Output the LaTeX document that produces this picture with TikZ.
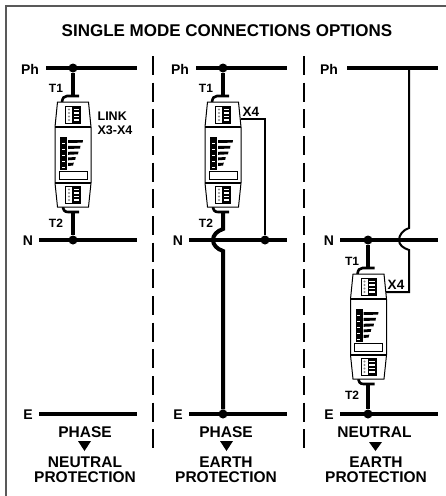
\documentclass[tikz,border=0pt]{standalone}
\usepackage{fontspec}
\setmainfont{Liberation Sans}
\tikzset{
  bus/.style={line width=4.2pt},
  wire/.style={line width=4pt},
  thin wire/.style={line width=2pt},
  junction/.style={circle,fill=black,inner sep=0pt,minimum size=9pt},
  lab/.style={font=\bfseries\fontsize{14}{15}\selectfont,inner sep=0pt},
  tlab/.style={font=\bfseries\fontsize{12}{12}\selectfont,inner sep=0pt},
  linklab/.style={font=\bfseries\fontsize{12.5}{13}\selectfont,inner sep=0pt},
  xlab/.style={font=\bfseries\fontsize{13.5}{14}\selectfont,inner sep=0pt},
  plab/.style={font=\bfseries\fontsize{15.5}{15}\selectfont,inner sep=0pt,align=center},
  tri/.style={fill=black,draw=none},
  sep/.style={line width=1.8pt,dash pattern=on 19pt off 7.67pt},
}
\newcommand{\termblock}[2]{%
  \begin{scope}[shift={(#1,#2)}]
    \fill[black] (-8,0) rectangle (8,18);
    \fill[white] (-7,1.2) rectangle (-1,16.8);
    \foreach \k in {3.5,7,10.5,14} {
      \fill[black!45] (-4,\k) circle (1.1pt);
      \fill[white] (0.8,\k-0.8) rectangle (6.2,\k+0.8);
    }
  \end{scope}}
\newcommand{\spd}[2]{%
  \begin{scope}[shift={(#1,#2)}]
    \draw[line width=2.6pt] (-11,6) .. controls (-10.5,2) and (-9,0) .. (-6,0) -- (6,0);
    \draw[line width=2.6pt] (-10,110) .. controls (-10,114) and (-8.5,116) .. (-5,116) -- (6,116);
    \draw[line width=1pt,fill=white] (-15.5,6) -- (15.5,6) -- (18,31) -- (18,87) -- (15.5,111) -- (-15.5,111) -- (-18,87) -- (-18,31) -- cycle;
    \draw[line width=1.8pt] (-18,31) -- (18,31);
    \draw[line width=1.8pt] (-18,87) -- (18,87);
    \termblock{0}{10}
    \termblock{0}{90}
    \fill (-13,41) rectangle (-6,74);
    \foreach \k in {47,53,59,65,71} \fill[white] (-11.5,\k-0.5) rectangle (-8.5,\k+0.5);
    \fill (-5,44) -- (10,44) -- (9.6,46.6) -- (-5,47) -- cycle;
    \fill (-5,50) -- (7.5,49.8) -- (7,52.5) -- (-5,53) -- cycle;
    \fill (-5,55.8) -- (5.5,55.5) -- (5,58.3) -- (-5,58.8) -- cycle;
    \fill (-5,61.5) -- (2.8,61) -- (2.2,63.8) -- (-5,64.3) -- cycle;
    \fill (-5,67) -- (0.8,66.7) -- (0,69.5) -- (-5,70) -- cycle;
    \draw[line width=0.9pt,fill=white] (-14,75) rectangle (14,83);
  \end{scope}}
\begin{document}
\begin{tikzpicture}[x=1pt,y=-1pt]
\useasboundingbox (0,0) rectangle (446,496);
\fill[white] (0,0) rectangle (446,496);
\draw[line width=1.2pt,black!65] (6,496) -- (6,6) -- (446,6);
\node[inner sep=0pt,font=\bfseries\fontsize{17}{18}\selectfont] (title) at (227,31) {SINGLE MODE CONNECTIONS OPTIONS};
\draw[sep] (152.7,56) -- (152.7,449);
\draw[sep] (304,56) -- (304,449);

\coordinate (ph1a) at (46,68); \coordinate (ph1b) at (137,68);
\coordinate (n1a) at (39,240); \coordinate (n1b) at (137,240);
\coordinate (e1a) at (39,414); \coordinate (e1b) at (137,414);
\coordinate (ph2a) at (196,68); \coordinate (ph2b) at (287,68);
\coordinate (n2a) at (189,240); \coordinate (n2b) at (287,240);
\coordinate (e2a) at (189,414); \coordinate (e2b) at (287,414);
\coordinate (ph3a) at (347,68); \coordinate (ph3b) at (438,68);
\coordinate (n3a) at (340,240); \coordinate (n3b) at (438,240);
\coordinate (e3a) at (340,414); \coordinate (e3b) at (438,414);
\foreach \i in {1,2,3} {
  \draw[bus] (ph\i a) -- (ph\i b);
  \draw[bus] (n\i a) -- (n\i b);
  \draw[bus] (e\i a) -- (e\i b);
}

% column 1
\node[junction] (j1) at (73,68) {};
\node[junction] (j2) at (73,240) {};
\draw[wire] (j1) -- (73,96);
\draw[wire] (73,212) -- (j2);
\spd{73}{96}

% column 2
\node[junction] (j3) at (223,68) {};
\node[junction] (j4) at (265,240) {};
\node[junction] (j5) at (223,414) {};
\draw[wire] (j3) -- (223,96);
\draw[wire] (223,212) -- (223,229) .. controls (217,231) and (213,235) .. (213,240) .. controls (213,245) and (217,249) .. (223,251) -- (j5);
\draw[thin wire] (241,119) -- (265,119) -- (j4);
\spd{223}{96}

% column 3
\node[junction] (j6) at (368,240) {};
\node[junction] (j7) at (368,414) {};
\coordinate (j8) at (409,68);
\draw[wire] (j6) -- (368,268);
\draw[wire] (368,384) -- (j7);
\draw[thin wire] (j8) -- (409,228) .. controls (403,230) and (399,235) .. (399,240) .. controls (399,245) and (403,248) .. (409,250) -- (409,292) -- (386,292);
\spd{368.5}{268}

% labels
\node[lab] (lph1) at (30,69.5) {Ph};
\node[lab] (ln1) at (28,241) {N};
\node[lab] (le1) at (28,415) {E};
\node[lab] (lph2) at (180,69) {Ph};
\node[lab] (ln2) at (178,241) {N};
\node[lab] (le2) at (178,415) {E};
\node[lab] (lph3) at (329,69) {Ph};
\node[lab] (ln3) at (329,241) {N};
\node[lab] (le3) at (329,415) {E};

\node[tlab] (t11) at (56,88) {T1};
\node[tlab] (t12) at (56,223) {T2};
\node[tlab] (t21) at (206,88) {T1};
\node[tlab] (t22) at (206,223) {T2};
\node[tlab] (t31) at (352,261) {T1};
\node[tlab] (t32) at (352,395) {T2};
\node[linklab,align=left] (link) at (115,123) {LINK\\[1pt]X3-X4};
\node[xlab] (x42) at (251,112) {X4};
\node[xlab] (x43) at (396,285) {X4};

\node[plab] (a1) at (85,432) {PHASE};
\fill[tri] (78,441) -- (91,441) -- (84.5,451) -- cycle;
\node[plab] (b1) at (85,469.5) {NEUTRAL\\PROTECTION};
\node[plab] (a2) at (226,432) {PHASE};
\fill[tri] (220,441) -- (233,441) -- (226.5,451) -- cycle;
\node[plab] (b2) at (226,469.5) {EARTH\\PROTECTION};
\node[plab] (a3) at (374.5,432) {NEUTRAL};
\fill[tri] (369,442) -- (382,442) -- (375.5,451) -- cycle;
\node[plab] (b3) at (376,469.5) {EARTH\\PROTECTION};
\end{tikzpicture}
\end{document}
